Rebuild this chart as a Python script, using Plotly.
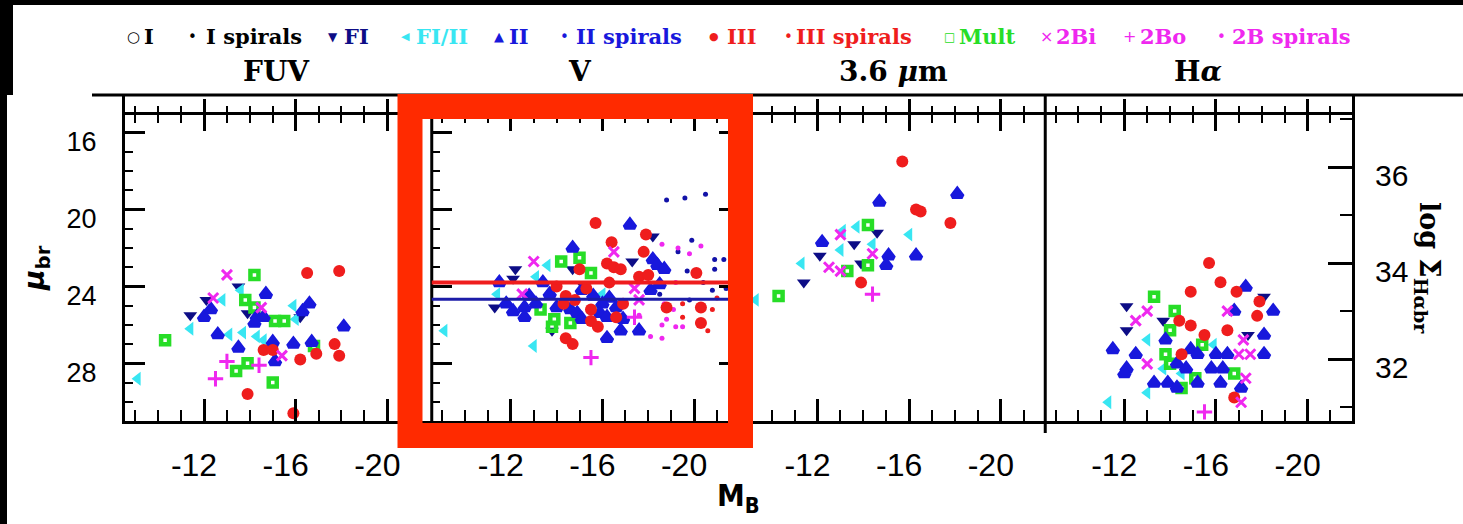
import plotly.graph_objects as go

# ---------------------------------------------------------------- data
# Profile classes shown in the legend row
CLASSES = ["I", "I spirals", "FI", "FI/II", "II", "II spirals",
           "III", "III spirals", "Mult", "2Bi", "2Bo", "2B spirals"]
PANEL_TITLES = ["FUV", "V", "3.6 <i>\u03bc</i>m", "H<i>\u03b1</i>"]

# FUV panel: absolute magnitude M_B and break surface brightness mu_br
FUV_FI_MB = [-13.5, -12.1, -11.4, -13.9, -16.2]
FUV_FI_MU = [24.0, 24.7, 25.5, 25.4, 25.6]
FUV_FIII_MB = [-12.8, -13.6, -15.9, -16.0, -11.4, -13.1, -13.7, -14.3, -14.6, -9.1]
FUV_FIII_MU = [24.7, 24.2, 25.0, 25.7, 26.2, 26.5, 26.4, 26.6, 26.8, 28.8]
FUV_II_MB = [-14.7, -16.6, -12.0, -12.3, -14.3, -14.6, -14.2, -16.3, -18.1, -12.6,
             -13.5, -15.0, -15.9, -16.7, -15.1]
FUV_II_MU = [24.4, 24.9, 25.6, 25.2, 25.6, 25.6, 25.9, 25.3, 26.1, 26.5,
             27.2, 26.9, 27.0, 26.9, 27.9]
FUV_III_MB = [-16.5, -17.9, -16.9, -17.7, -17.9, -14.6, -15.0, -16.2, -13.9, -15.9]
FUV_III_MU = [23.3, 23.2, 27.5, 27.0, 27.6, 27.3, 27.3, 27.8, 29.6, 30.6]
FUV_MULT_MB = [-14.2, -13.8, -14.2, -15.1, -15.5, -10.3, -16.8, -13.9, -13.4, -15.0]
FUV_MULT_MU = [23.4, 24.7, 25.1, 25.8, 25.8, 26.8, 27.1, 28.0, 28.4, 29.0]
FUV_2BI_MB = [-13.0, -12.4, -14.5, -15.4]
FUV_2BI_MU = [23.4, 24.6, 25.1, 27.6]
FUV_2BO_MB = [-13.0, -14.4, -12.5]
FUV_2BO_MU = [27.9, 28.1, 28.8]

# V panel
V_FI_MB = [-18.2, -17.3, -14.7, -12.2, -12.1, -11.3, -13.8, -15.2]
V_FI_MU = [21.4, 22.7, 23.1, 23.1, 23.6, 25.1, 26.3, 24.0]
V_FIII_MB = [-13.6, -13.1, -11.4, -16.0, -15.8, -9.1, -13.0]
V_FIII_MU = [22.9, 23.5, 24.4, 24.4, 25.1, 26.3, 27.1]
V_II_MB = [-17.2, -14.7, -18.2, -18.4, -18.7, -13.4, -11.5, -18.1, -12.8, -13.7,
           -15.1, -15.6, -16.3, -11.8, -12.6, -13.1, -14.0, -14.6, -16.0, -16.6,
           -12.1, -12.6, -14.9, -15.1, -15.9, -16.2, -16.9, -16.8, -16.2, -18.5, -17.6]
V_II_MU = [20.8, 22.0, 22.6, 22.9, 23.1, 23.8, 23.8, 24.2, 24.5, 24.4,
           24.2, 24.5, 24.6, 24.9, 25.1, 24.9, 25.1, 25.2, 24.9, 25.1,
           25.3, 25.6, 25.4, 25.7, 25.4, 25.6, 25.7, 26.3, 26.7, 23.9, 26.3]
V_IISP_MB = [-18.8, -19.6, -20.5, -19.9, -19.3, -20.9, -21.3, -20.9, -19.7, -20.0,
             -20.4, -20.8, -21.4, -18.5, -19.8]
V_IISP_MU = [19.5, 19.4, 19.2, 21.6, 22.2, 22.6, 22.6, 23.1, 23.2, 23.3,
             23.8, 24.2, 24.1, 24.4, 24.7]
V_III_MB = [-15.7, -17.9, -16.4, -17.8, -16.2, -16.5, -16.8, -15.0, -17.6, -18.0,
            -20.1, -14.0, -15.3, -16.3, -14.4, -14.8, -15.5, -16.9, -18.8, -20.3,
            -16.6, -15.5, -15.8, -20.3, -14.4, -14.7, -14.3]
V_III_MU = [20.7, 21.3, 21.7, 22.2, 22.8, 23.0, 23.1, 23.1, 23.5, 23.4,
            23.3, 24.0, 24.1, 23.8, 24.5, 24.7, 25.2, 24.9, 25.1, 25.1,
            25.6, 25.8, 26.1, 25.9, 26.7, 27.0, 24.9]
V_IIISP_MB = [-20.8, -19.5, -19.5, -20.6, -21.0]
V_IIISP_MU = [25.2, 24.9, 25.6, 26.3, 24.6]
V_MULT_MB = [-14.2, -15.0, -15.5, -13.3, -13.9, -14.6, -13.8]
V_MULT_MU = [22.7, 22.5, 23.3, 25.2, 25.7, 25.9, 26.1]
V_2BI_MB = [-13.0, -16.5, -17.4, -12.5, -17.6]
V_2BI_MU = [22.7, 22.2, 24.1, 24.4, 24.7]
V_2BO_MB = [-17.4, -15.5]
V_2BO_MU = [25.6, 27.7]
V_2BSP_MB = [-18.6, -19.3, -20.3, -19.8, -19.2, -18.7, -19.1, -18.8, -18.6, -19.2,
             -19.5, -18.6, -18.1, -17.6]
V_2BSP_MU = [21.8, 22.0, 21.9, 22.3, 23.8, 24.9, 25.2, 25.7, 26.0, 26.1,
             26.1, 26.7, 26.6, 25.5]
# median break surface brightness of the Type III and Type II samples in V
V_MEDIAN_III = 23.8
V_MEDIAN_II = 24.67

# 3.6 micron panel
IR_FI_MB = [-14.6, -13.6, -12.1, -13.9, -11.4]
IR_FI_MU = [21.2, 21.8, 22.4, 22.8, 23.8]
IR_FIII_MB = [-13.7, -13.1, -16.0, -14.4, -13.0, -11.3, -9.3]
IR_FIII_MU = [20.9, 21.1, 21.3, 21.8, 22.1, 22.8, 24.7]
IR_II_MB = [-18.1, -14.7, -12.2, -15.1, -16.3, -15.0]
IR_II_MU = [19.2, 19.6, 21.7, 22.4, 22.4, 22.9]
IR_III_MB = [-15.7, -16.3, -16.5, -17.8, -13.9]
IR_III_MU = [17.5, 20.0, 20.1, 20.7, 23.8]
IR_MULT_MB = [-14.2, -14.2, -13.3, -10.3]
IR_MULT_MU = [20.8, 22.9, 23.2, 24.5]
IR_2BI_MB = [-13.0, -14.4, -12.5, -13.0]
IR_2BI_MU = [21.3, 22.3, 23.0, 23.2]
IR_2BO_MB = [-14.4]
IR_2BO_MU = [24.4]

# H-alpha panel: log Sigma_Halpha at the break
HA_FI_MB = [-18.1, -12.1, -12.1, -13.7, -17.4]
HA_FI_LS = [33.3, 33.1, 32.6, 32.8, 32.5]
HA_FIII_MB = [-13.0, -15.9, -13.7, -14.5, -13.0, -11.3]
HA_FIII_LS = [32.4, 32.3, 31.8, 31.7, 31.3, 31.1]
HA_II_MB = [-17.3, -18.5, -16.8, -18.1, -13.8, -11.5, -12.5, -14.9, -15.2, -16.0,
            -16.5, -18.1, -12.1, -14.3, -14.7, -15.8, -16.3, -12.0, -13.3, -13.9,
            -14.3, -15.2, -16.2, -17.1]
HA_II_LS = [33.5, 33.0, 33.0, 32.5, 32.4, 32.2, 32.1, 32.2, 32.1, 32.1,
            32.1, 32.1, 31.8, 31.9, 31.8, 31.8, 31.8, 31.7, 31.5, 31.5,
            31.4, 31.5, 31.5, 31.4]
HA_III_MB = [-15.7, -16.2, -16.9, -17.9, -17.8, -14.9, -14.4, -14.9, -16.5, -15.5,
             -14.5, -16.8]
HA_III_LS = [34.0, 33.6, 33.4, 33.2, 32.9, 33.4, 32.8, 32.7, 32.6, 32.5,
             32.1, 31.2]
HA_MULT_MB = [-13.3, -14.2, -14.0, -15.4, -13.8, -14.0, -16.8, -15.1, -14.5]
HA_MULT_LS = [33.3, 33.0, 32.6, 32.3, 32.1, 31.9, 31.7, 31.6, 31.4]
HA_2BI_MB = [-16.5, -13.0, -12.5, -17.2, -17.0, -17.5, -13.0, -17.3, -17.1]
HA_2BI_LS = [33.0, 33.0, 32.8, 32.4, 32.1, 32.1, 31.9, 31.6, 31.1]
HA_2BO_MB = [-15.5]
HA_2BO_LS = [30.9]

# axis ranges and tick labels
MB_RANGE = [-8.55, -21.94]
MB_TICKS = [-12, -16, -20]
MB_TICK_TEXT = ["-12", "-16", "-20"]
MU_RANGE = [31.0, 14.09]
LOGS_RANGE = [30.71, 37.48]
MU_TOP_AXIS = 15.0

# ---------------------------------------------------------------- styles
NAVY = "#0d0d86"
BLUE = "#1818dc"
DOTBLUE = "#1212a8"
CYAN = "#38e6f2"
RED = "#ef1d1d"
GREEN = "#27dd27"
MAGENTA = "#ef28ef"
FRAME_RED = "#ff2a00"

STYLE = {
    "I": dict(symbol="circle-open", color="black", size=10, lw=2),
    "I spirals": dict(symbol="circle", color="black", size=5, lw=0),
    "FI": dict(symbol="triangle-down", color=NAVY, size=12, lw=0),
    "FI/II": dict(symbol="triangle-left", color=CYAN, size=12, lw=0),
    "II": dict(symbol="triangle-up-open", color=BLUE, size=9, lw=5),
    "II spirals": dict(symbol="circle", color=DOTBLUE, size=5, lw=0),
    "III": dict(symbol="circle", color=RED, size=12, lw=0),
    "III spirals": dict(symbol="circle", color=RED, size=5, lw=0),
    "Mult": dict(symbol="square-open", color=GREEN, size=8, lw=4.5),
    "2Bi": dict(symbol="x-thin", color=MAGENTA, size=10, lw=3),
    "2Bo": dict(symbol="cross-thin", color=MAGENTA, size=11, lw=3),
    "2B spirals": dict(symbol="circle", color=MAGENTA, size=5, lw=0),
}
LEGEND_GLYPH = {
    "I": ("\u25cb", 15), "I spirals": ("\u2022", 15), "FI": ("\u25bc", 12),
    "FI/II": ("\u25c0", 11), "II": ("\u25b2", 13), "II spirals": ("\u2022", 15),
    "III": ("\u25cf", 11), "III spirals": ("\u2022", 15), "Mult": ("\u25a1", 12),
    "2Bi": ("\u00d7", 16), "2Bo": ("+", 16), "2B spirals": ("\u2022", 15),
}
LEGEND_COLOR = {
    "I": "black", "I spirals": "black", "FI": NAVY, "FI/II": CYAN, "II": BLUE,
    "II spirals": BLUE, "III": RED, "III spirals": RED, "Mult": GREEN,
    "2Bi": MAGENTA, "2Bo": MAGENTA, "2B spirals": MAGENTA,
}

PANELS = [
    {"FI": (FUV_FI_MB, FUV_FI_MU), "FI/II": (FUV_FIII_MB, FUV_FIII_MU),
     "Mult": (FUV_MULT_MB, FUV_MULT_MU), "II": (FUV_II_MB, FUV_II_MU),
     "III": (FUV_III_MB, FUV_III_MU), "2Bi": (FUV_2BI_MB, FUV_2BI_MU),
     "2Bo": (FUV_2BO_MB, FUV_2BO_MU)},
    {"II spirals": (V_IISP_MB, V_IISP_MU), "2B spirals": (V_2BSP_MB, V_2BSP_MU),
     "III spirals": (V_IIISP_MB, V_IIISP_MU), "FI": (V_FI_MB, V_FI_MU),
     "FI/II": (V_FIII_MB, V_FIII_MU), "Mult": (V_MULT_MB, V_MULT_MU),
     "II": (V_II_MB, V_II_MU), "III": (V_III_MB, V_III_MU),
     "2Bi": (V_2BI_MB, V_2BI_MU), "2Bo": (V_2BO_MB, V_2BO_MU)},
    {"FI": (IR_FI_MB, IR_FI_MU), "FI/II": (IR_FIII_MB, IR_FIII_MU),
     "Mult": (IR_MULT_MB, IR_MULT_MU), "II": (IR_II_MB, IR_II_MU),
     "III": (IR_III_MB, IR_III_MU), "2Bi": (IR_2BI_MB, IR_2BI_MU),
     "2Bo": (IR_2BO_MB, IR_2BO_MU)},
    {"FI": (HA_FI_MB, HA_FI_LS), "FI/II": (HA_FIII_MB, HA_FIII_LS),
     "Mult": (HA_MULT_MB, HA_MULT_LS), "II": (HA_II_MB, HA_II_LS),
     "III": (HA_III_MB, HA_III_LS), "2Bi": (HA_2BI_MB, HA_2BI_LS),
     "2Bo": (HA_2BO_MB, HA_2BO_LS)},
]

# ---------------------------------------------------------------- geometry
W, H = 1463, 524
PL, PR, PT, PB = 125, 1352, 96, 421
SERIF = "DejaVu Serif"
SANS = "Liberation Sans, Arial, sans-serif"


def fx(p):
    return (p - PL) / (PR - PL)


def fy(p):
    return (PB - p) / (PB - PT)


fig = go.Figure()

for i, panel in enumerate(PANELS, start=1):
    for cls, (mb, val) in panel.items():
        st = STYLE[cls]
        fig.add_trace(go.Scatter(
            x=mb, y=val, mode="markers", name=cls, showlegend=False,
            xaxis=f"x{i}", yaxis=f"y{i}",
            marker=dict(symbol=st["symbol"], size=st["size"], color=st["color"],
                        line=dict(width=st["lw"], color=st["color"])),
        ))

# empty traces so the tick-row axes at mu = 15 get their own subplots
for i in range(1, 5):
    for k in (4 + i, 8 + i):
        fig.add_trace(go.Scatter(x=[], y=[], xaxis=f"x{k}", yaxis=f"y{i}",
                                 showlegend=False, hoverinfo="skip"))

layout = dict(
    width=W, height=H, autosize=False,
    margin=dict(l=PL, r=W - PR, t=PT, b=H - PB, pad=0),
    paper_bgcolor="white", plot_bgcolor="white",
    showlegend=False,
)

top_pos = (MU_RANGE[0] - MU_TOP_AXIS) / (MU_RANGE[0] - MU_RANGE[1])
minor_x = dict(ticks="inside", tickmode="linear", tick0=0, dtick=1, ticklen=11,
               tickwidth=2, tickcolor="black")

for i in range(1, 5):
    dom = [(i - 1) / 4, i / 4]
    layout[f"xaxis{i}"] = dict(
        domain=dom, range=MB_RANGE, anchor=f"y{i}", showgrid=False, zeroline=False,
        showline=True, linewidth=3, linecolor="black",
        ticks="inside", tickmode="array", tickvals=MB_TICKS, ticktext=MB_TICK_TEXT,
        ticklen=22, tickwidth=2.5, tickcolor="black", minor=minor_x,
        tickfont=dict(family=SANS, size=32, color="black"),
        ticklabelstandoff=14, ticklabelshift=10,
    )
    # upward ticks of the mu = 15 tick row
    layout[f"xaxis{4 + i}"] = dict(
        range=MB_RANGE, overlaying=f"x{i}", anchor="free", position=top_pos, side="top",
        showgrid=False, zeroline=False, showline=True, linewidth=3, linecolor="black",
        showticklabels=False, ticks="outside", tickmode="array", tickvals=MB_TICKS,
        ticklen=13, tickwidth=2.5, tickcolor="black",
        minor=dict(ticks="outside", tickmode="linear", tick0=0, dtick=1, ticklen=6,
                   tickwidth=2, tickcolor="black"),
    )
    # downward ticks of the same row
    layout[f"xaxis{8 + i}"] = dict(
        range=MB_RANGE, overlaying=f"x{i}", anchor="free", position=top_pos, side="top",
        showgrid=False, zeroline=False, showline=False,
        showticklabels=False, ticks="inside", tickmode="array", tickvals=MB_TICKS,
        ticklen=17, tickwidth=2.5, tickcolor="black",
        minor=dict(ticks="inside", tickmode="linear", tick0=0, dtick=1, ticklen=9,
                   tickwidth=2, tickcolor="black"),
    )

minor_y = dict(ticks="inside", tick0=0, dtick=1, ticklen=8, tickwidth=2, tickcolor="black")
layout["yaxis"] = dict(
    domain=[0, 1], range=MU_RANGE, anchor="x", showgrid=False, zeroline=False,
    showline=True, linewidth=3, linecolor="black",
    ticks="inside", tick0=0, dtick=4, ticklen=20, tickwidth=2.5, tickcolor="black",
    minor=minor_y,
    tickfont=dict(family=SANS, size=27, color="black"),
    ticklabelstandoff=20, ticklabelshift=-9,
)
layout["yaxis2"] = dict(
    domain=[0, 1], range=MU_RANGE, anchor="x2", showgrid=False, zeroline=False,
    showline=False, mirror="ticks", showticklabels=False,
    ticks="inside", tick0=0, dtick=4, ticklen=20, tickwidth=2.5, tickcolor="black",
    minor=minor_y,
)
layout["yaxis3"] = dict(
    domain=[0, 1], range=MU_RANGE, anchor="x3", showgrid=False, zeroline=False,
    showline=False, showticklabels=False, ticks="",
)
layout["yaxis4"] = dict(
    domain=[0, 1], range=LOGS_RANGE, anchor="x4", side="right", showgrid=False,
    zeroline=False, showline=True, linewidth=3, linecolor="black",
    ticks="inside", tick0=0, dtick=2, ticklen=24, tickwidth=2.5, tickcolor="black",
    minor=dict(ticks="inside", tick0=0, dtick=1, ticklen=12, tickwidth=2, tickcolor="black"),
    tickfont=dict(family=SANS, size=30, color="black"),
    ticklabelstandoff=14, ticklabelshift=8,
)

shapes = []


def rect_px(x0, y0, x1, y1, color):
    shapes.append(dict(type="rect", xref="paper", yref="paper",
                       x0=fx(x0), x1=fx(x1), y0=fy(y1), y1=fy(y0),
                       fillcolor=color, line=dict(width=0), layer="above"))


def line_px(x0, y0, x1, y1, width=3, color="black"):
    shapes.append(dict(type="line", xref="paper", yref="paper",
                       x0=fx(x0), x1=fx(x1), y0=fy(y0), y1=fy(y1),
                       line=dict(width=width, color=color), layer="above"))


# outer border of the page
rect_px(0, 0, W, 5, "black")
rect_px(0, 0, 13, 95, "black")
rect_px(0, 95, 7, H, "black")
# frame top and panel separators
line_px(92, 95, W, 95)
for i in range(1, 4):
    xb = PL + i * (PR - PL) / 4
    line_px(xb, 95, xb, 433)

# median lines in the V panel
for val, col, wdt in [(V_MEDIAN_II, "#1c1ca8", 3), (V_MEDIAN_III, RED, 4)]:
    shapes.append(dict(type="line", xref="x2 domain", yref="y2", x0=0, x1=1,
                       y0=val, y1=val, line=dict(color=col, width=wdt), layer="above"))

# highlight box around the V panel
shapes.append(dict(type="rect", xref="paper", yref="paper",
                   x0=fx(410), x1=fx(740.5), y0=fy(435.5), y1=fy(106.5),
                   line=dict(color=FRAME_RED, width=25), fillcolor="rgba(0,0,0,0)",
                   layer="above"))
layout["shapes"] = shapes

annotations = []


def note(text, x, y, size, family=SERIF, color="black", xanchor="center", angle=0):
    annotations.append(dict(text=text, x=fx(x), y=fy(y), xref="paper", yref="paper",
                            showarrow=False, xanchor=xanchor, yanchor="middle",
                            textangle=angle,
                            font=dict(family=family, size=size, color=color)))


# legend row: glyph centre and label start for each class
LEGEND_GLYPH_X = [133, 192, 333, 405, 499, 564, 714, 788, 949, 1046, 1129, 1221]
LEGEND_TEXT_X = [142, 204, 342, 414, 507, 574, 725, 794, 957, 1054, 1138, 1230]
for cls, gx, tx in zip(CLASSES, LEGEND_GLYPH_X, LEGEND_TEXT_X):
    glyph, gsize = LEGEND_GLYPH[cls]
    note(glyph, gx, 37, gsize, family="DejaVu Sans", color=LEGEND_COLOR[cls])
    note(f"<b>{cls}</b>", tx, 36, 21, color=LEGEND_COLOR[cls], xanchor="left")

# panel titles
for title, cx in zip(PANEL_TITLES, [276, 580, 893, 1198]):
    note(f"<b>{title}</b>", cx, 72, 28)

# axis titles
note("<b>M<sub>B</sub></b>", 738, 497, 31,
     family="DejaVu Sans Condensed, Liberation Sans Narrow, sans-serif")
note("<b><i>\u03bc</i><sub>br</sub></b>", 36, 268, 28, family="DejaVu Sans", angle=-90)
note("<b>log \u03a3<sub>H\u03b1br</sub></b>", 1428, 268, 27, angle=90)
layout["annotations"] = annotations

fig.update_layout(**layout)
fig.write_html("out.html")
